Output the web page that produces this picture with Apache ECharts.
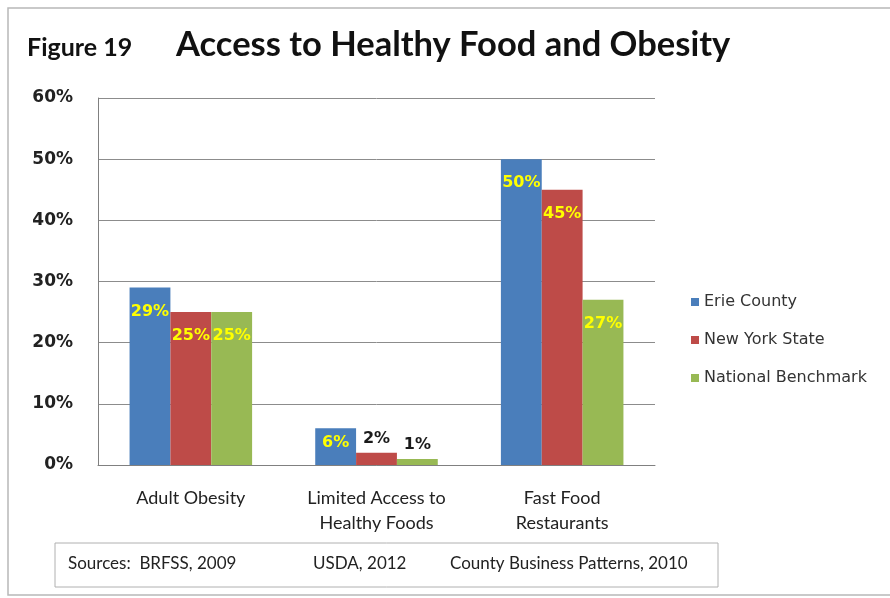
<!DOCTYPE html>
<html><head><meta charset="utf-8">
<script src="https://cdn.jsdelivr.net/npm/echarts@6/dist/echarts.min.js"></script>
<style>html,body{margin:0;padding:0;background:#fff}#c{width:890px;height:598px}</style>
</head><body><div id="c"></div>
<script>
const categories = ['Adult Obesity', 'Limited Access to\nHealthy Foods', 'Fast Food\nRestaurants'];
const erieCounty = [29, 6, 50];
const newYorkState = [25, 2, 45];
const nationalBenchmark = [25, 1, 27];
const seriesNames = ['Erie County', 'New York State', 'National Benchmark'];
const seriesColors = ['#4a7ebb', '#be4b48', '#98b954'];
const yTicks = [0, 10, 20, 30, 40, 50, 60];

function mkData(arr) {
  return arr.map(v => {
    if (v < 4) return { value: v, label: { position: 'top', distance: 6, color: '#1a1a1a' } };
    if (v < 10) return { value: v, label: { position: 'insideTop', distance: 7 } };
    return v;
  });
}
const chart = echarts.init(document.getElementById('c'));
const labelStyle = {
  show: true, position: 'insideTop', distance: 16,
  formatter: '{c}%', color: '#ffff00', fontFamily: 'DejaVu Sans', fontWeight: 'bold', fontSize: 16
};
chart.setOption({
  animation: false,
  backgroundColor: '#fff',
  graphic: [
    { type: 'polyline', shape: { points: [[895, 8], [8, 8], [8, 595], [895, 595]] }, style: { stroke: '#b8b8b8', lineWidth: 1.5, fill: null } },
    { type: 'text', left: 27, top: 35, style: { text: 'Figure 19', font: 'bold 25px Lato', fill: '#111' } },
    { type: 'text', left: 176, top: 27, style: { text: 'Access to Healthy Food and Obesity', font: 'bold 34.5px Lato', fill: '#111' } },
    { type: 'rect', shape: { x: 55, y: 543, width: 663, height: 44 }, style: { fill: '#fff', stroke: '#b0b0b0', lineWidth: 1 } },
    { type: 'text', left: 68, top: 555, style: { text: 'Sources:  BRFSS, 2009', font: '17px Lato', fill: '#222' } },
    { type: 'text', left: 313, top: 555, style: { text: 'USDA, 2012', font: '17px Lato', fill: '#222' } },
    { type: 'text', left: 450, top: 555, style: { text: 'County Business Patterns, 2010', font: '17px Lato', fill: '#222' } }
  ],
  grid: { left: 98, right: 235, top: 98, bottom: 133 },
  legend: {
    orient: 'vertical', left: 686, top: 289, itemGap: 22,
    itemWidth: 8, itemHeight: 8, icon: 'rect',
    textStyle: { fontFamily: 'DejaVu Sans', fontSize: 16, color: '#333', padding: [0, 0, 0, 0] },
    data: seriesNames
  },
  xAxis: {
    type: 'category', data: categories,
    axisLine: { show: true, lineStyle: { color: '#808080' } },
    axisTick: { show: false },
    axisLabel: { margin: 21, fontFamily: 'Lato', fontSize: 18, color: '#222', lineHeight: 25 }
  },
  yAxis: {
    type: 'value', min: 0, max: 60, interval: 10,
    axisLine: { show: true, lineStyle: { color: '#808080' } },
    axisTick: { show: false },
    splitLine: { lineStyle: { color: '#8c8c8c', width: 1 } },
    axisLabel: { margin: 25, fontFamily: 'DejaVu Sans', fontWeight: 'bold', fontSize: 17, color: '#222',
      formatter: v => yTicks.includes(v) ? v + '%' : '' }
  },
  series: [
    { name: seriesNames[0], type: 'bar', data: mkData(erieCounty), itemStyle: { color: seriesColors[0] }, label: labelStyle, barGap: '0%', barCategoryGap: '34%' },
    { name: seriesNames[1], type: 'bar', data: mkData(newYorkState), itemStyle: { color: seriesColors[1] }, label: labelStyle, barGap: '0%', barCategoryGap: '34%' },
    { name: seriesNames[2], type: 'bar', data: mkData(nationalBenchmark), itemStyle: { color: seriesColors[2] }, label: labelStyle, barGap: '0%', barCategoryGap: '34%' }
  ]
});
</script></body></html>
